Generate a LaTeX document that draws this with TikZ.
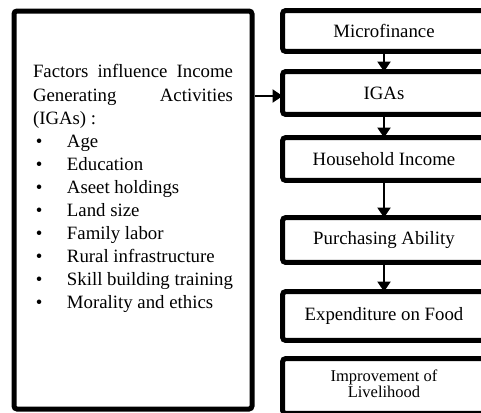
\documentclass[tikz,border=0pt]{standalone}
\usepackage{fontspec}
\setmainfont{Liberation Serif}
\usetikzlibrary{arrows.meta}

\begin{document}
\begin{tikzpicture}[x=0.5pt, y=-0.5pt,
		stage/.style={minimum width=120pt, font=\fontsize{9.4}{11}\selectfont, execute at end node={\hspace*{19pt}}},
		frame/.style={line width=2.5pt, rounded corners=1.5pt},
		flow/.style={->, line width=1pt, >={Triangle[width=6.5pt, length=5pt]}}]
				\useasboundingbox (0,0) rectangle (481,412);
				\clip (0,0) rectangle (481,412);
				\node[draw, frame, inner xsep=9.5pt, inner ysep=0pt, font=\fontsize{9.4}{11.55}\selectfont] (F)at(133, 210) {\parbox[b][199pt][t]{100pt}{\vspace*{25.4pt}\strut Factors influence Income\linebreak Generating Activities\linebreak (IGAs) :\par
					\makebox[17pt][l]{\hspace{1.4pt}\textbullet}Age\par
					\makebox[17pt][l]{\hspace{1.4pt}\textbullet}Education\par
					\makebox[17pt][l]{\hspace{1.4pt}\textbullet}Aseet holdings\par
					\makebox[17pt][l]{\hspace{1.4pt}\textbullet}Land size\par
					\makebox[17pt][l]{\hspace{1.4pt}\textbullet}Family labor\par
					\makebox[17pt][l]{\hspace{1.4pt}\textbullet}Rural infrastructure\par
					\makebox[17pt][l]{\hspace{1.4pt}\textbullet}Skill building training\par
					\makebox[17pt][l]{\hspace{1.4pt}\textbullet}Morality and ethics}};
				% right column runs off the right edge
				\node[stage, minimum height=20pt] (M)at(403, 31) {Microfinance};
				\node[stage, minimum height=21pt] (I)at(403, 93) {IGAs};
				\node[stage, minimum height=21pt] (H)at(403, 159) {Household Income};
				\node[stage, minimum height=22pt] (P)at(403, 240) {Purchasing Ability};
				\node[stage, minimum height=24pt] (E)at(403, 316) {Expenditure on Food};
				\node[stage, minimum height=27pt, font=\fontsize{8.25}{8}\selectfont] (L)at(403, 386) {\begin{tabular}{@{}c@{}}Improvement of\\Livelihood\end{tabular}};
				\foreach \s in {M,I,H,P,E,L}
					\draw[frame] (\s.north east) -| (\s.south west) -- (\s.south east);
				\coordinate (Iin) at ([yshift=-1.5pt]I.west);
				\draw[flow] (F.east |- Iin) -- (Iin);
				\draw[flow] (M.south -| 384,0) -- (I.north -| 384,0);
				\draw[flow] (I.south -| 384,0) -- (H.north -| 384,0);
				\draw[flow] (H.south -| 384,0) -- (P.north -| 384,0);
				\draw[flow] (P.south -| 384,0) -- (E.north -| 384,0);
			\end{tikzpicture}
\end{document}
